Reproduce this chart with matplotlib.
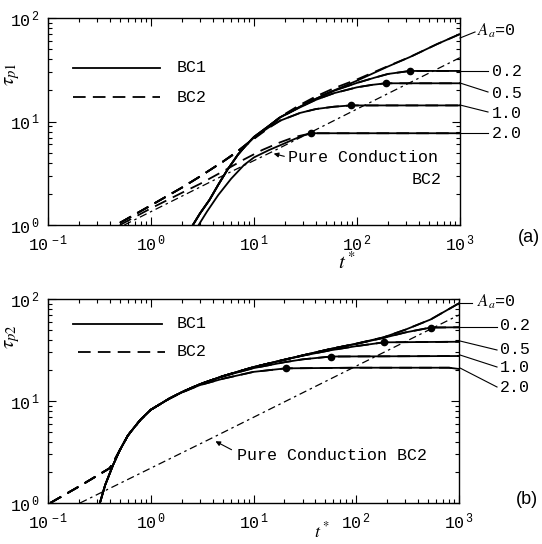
import matplotlib
matplotlib.use("Agg")
import matplotlib.pyplot as plt
from matplotlib.lines import Line2D

plt.rcParams['font.family'] = ['Liberation Mono', 'DejaVu Sans Mono']
plt.rcParams['mathtext.fontset'] = 'stix'

# ---------------- Panel (a) data: (t*, tau_p1) ----------------
a_bc1_A0_t   = [2.55, 3.0, 3.7, 4.5, 5.5, 7.0, 8.5, 10, 14, 18, 28, 40, 60, 100, 200, 327, 600, 1000]
a_bc1_A0_v   = [1.0, 1.3, 1.75, 2.45, 3.4, 4.8, 6.0, 7.1, 9.1, 11.0, 13.9, 16.6, 20.0, 24.8, 34.0, 42.0, 56.0, 70.0]
a_bc1_A02_t  = [2.55, 3.0, 3.7, 4.5, 5.5, 7.0, 8.5, 10, 14, 18, 28, 40, 60, 100, 150, 200, 327, 1000]
a_bc1_A02_v  = [1.0, 1.3, 1.75, 2.45, 3.4, 4.8, 6.0, 7.1, 9.1, 11.0, 13.9, 16.6, 19.8, 23.6, 26.6, 28.8, 30.8, 30.8]
a_bc1_A05_t  = [2.55, 3.0, 3.7, 4.5, 5.5, 7.0, 8.5, 10, 14, 18, 28, 40, 60, 100, 140, 190, 1000]
a_bc1_A05_v  = [1.0, 1.3, 1.75, 2.45, 3.4, 4.8, 6.0, 7.1, 9.1, 11.0, 13.7, 16.2, 18.8, 21.4, 22.6, 23.4, 23.4]
a_bc1_A10_t  = [2.55, 3.0, 3.7, 4.5, 5.5, 7.0, 8.5, 10, 14, 18, 28, 40, 60, 87, 1000]
a_bc1_A10_v  = [1.0, 1.3, 1.75, 2.45, 3.4, 4.8, 6.0, 7.0, 8.8, 10.2, 12.1, 13.2, 13.9, 14.3, 14.3]
a_bc1_A20_t  = [2.9, 3.5, 4.5, 6.0, 8.0, 10, 14, 18, 25, 30, 36, 1000]
a_bc1_A20_v  = [1.0, 1.35, 1.95, 2.8, 3.8, 4.5, 5.3, 5.9, 6.8, 7.3, 7.7, 7.7]

a_bc2_A0_t   = [0.5, 1.0, 2.0, 3.0, 5.0, 7.0, 10, 14, 18, 28, 40, 60, 100, 200, 327, 600, 1000]
a_bc2_A0_v   = [1.05, 1.55, 2.3, 2.95, 4.1, 5.2, 6.9, 9.0, 11.1, 14.5, 17.5, 21.0, 25.5, 34.3, 42.0, 56.0, 70.0]
a_bc2_A02_t  = [0.5, 1.0, 2.0, 3.0, 5.0, 7.0, 10, 14, 18, 28, 40, 60, 100, 150, 200, 327, 1000]
a_bc2_A02_v  = [1.05, 1.55, 2.3, 2.95, 4.1, 5.2, 6.9, 9.0, 11.0, 14.2, 17.0, 20.0, 23.6, 26.6, 28.8, 30.8, 30.8]
a_bc2_A05_t  = [0.5, 1.0, 2.0, 3.0, 5.0, 7.0, 10, 14, 18, 28, 40, 60, 100, 140, 190, 1000]
a_bc2_A05_v  = [1.05, 1.55, 2.3, 2.95, 4.1, 5.2, 6.9, 9.0, 10.9, 13.8, 16.3, 18.8, 21.4, 22.6, 23.4, 23.4]
a_bc2_A10_t  = [0.5, 1.0, 2.0, 3.0, 5.0, 7.0, 10, 14, 18, 28, 40, 60, 87, 1000]
a_bc2_A10_v  = [1.05, 1.55, 2.3, 2.95, 4.1, 5.1, 6.8, 8.7, 10.2, 12.1, 13.2, 13.9, 14.3, 14.3]
a_bc2_A20_t  = [0.5, 1.0, 2.0, 3.0, 5.0, 8.0, 12, 18, 25, 36, 1000]
a_bc2_A20_v  = [1.0, 1.45, 2.05, 2.5, 3.3, 4.3, 5.3, 6.3, 7.1, 7.7, 7.7]

a_pc_t = [0.55, 5.0, 15, 100, 1000]
a_pc_v = [1.0, 3.0, 5.1, 13.2, 41.4]

a_dot_t = [327, 190, 87, 36]
a_dot_v = [30.8, 23.4, 14.3, 7.7]

# ---------------- Panel (b) data: (t*, tau_p2) ----------------
b_bc1_A0_t  = [0.32, 0.36, 0.43, 0.5, 0.6, 0.7, 0.8, 1.0, 1.5, 2.0, 3.0, 5.0, 10, 18, 30, 57, 100, 183, 300, 530, 1000]
b_bc1_A0_v  = [1.0, 1.5, 2.36, 3.3, 4.6, 5.6, 6.6, 8.2, 10.5, 12.2, 14.6, 17.5, 21.5, 24.8, 28.0, 32.5, 36.5, 42.0, 50.0, 63.0, 90.8]
b_bc1_A02_t = [0.32, 0.36, 0.43, 0.5, 0.6, 0.7, 0.8, 1.0, 1.5, 2.0, 3.0, 5.0, 10, 18, 30, 57, 100, 183, 300, 530, 1000]
b_bc1_A02_v = [1.0, 1.5, 2.36, 3.3, 4.6, 5.6, 6.6, 8.2, 10.5, 12.2, 14.6, 17.5, 21.5, 24.8, 28.0, 32.5, 36.3, 41.5, 47.0, 52.5, 52.8]
b_bc1_A05_t = [0.32, 0.36, 0.43, 0.5, 0.6, 0.7, 0.8, 1.0, 1.5, 2.0, 3.0, 5.0, 10, 18, 30, 57, 100, 186, 1000]
b_bc1_A05_v = [1.0, 1.5, 2.36, 3.3, 4.6, 5.6, 6.6, 8.2, 10.5, 12.2, 14.6, 17.5, 21.5, 24.7, 27.8, 31.5, 34.5, 37.6, 38.1]
b_bc1_A10_t = [0.32, 0.36, 0.43, 0.5, 0.6, 0.7, 0.8, 1.0, 1.5, 2.0, 3.0, 5.0, 10, 20, 30, 57, 1000]
b_bc1_A10_v = [1.0, 1.5, 2.36, 3.3, 4.6, 5.6, 6.6, 8.2, 10.5, 12.2, 14.6, 17.4, 21.0, 24.0, 25.6, 27.3, 27.6]
b_bc1_A20_t = [0.32, 0.36, 0.43, 0.5, 0.6, 0.7, 0.8, 1.0, 1.5, 2.0, 3.0, 5.0, 10, 20.6, 100, 800, 1000]
b_bc1_A20_v = [1.0, 1.5, 2.36, 3.3, 4.6, 5.6, 6.6, 8.2, 10.5, 12.1, 14.3, 16.5, 19.3, 20.9, 21.2, 21.2, 20.6]

b_bc2_early_t = [0.105, 0.2, 0.3, 0.4, 0.45, 0.5]
b_bc2_early_v = [1.0, 1.45, 1.85, 2.2, 2.7, 3.3]

b_pc_t = [0.205, 4.06, 100, 1000]
b_pc_v = [1.0, 4.4, 22.0, 69.7]

b_dot_t = [530, 186, 57, 20.6]
b_dot_v = [52.5, 37.6, 27.3, 20.9]

A_labels = ['$A_a$=0', '0.2', '0.5', '1.0', '2.0']

# ---------------- figure ----------------
W, H = 542, 544
fig = plt.figure(figsize=(W / 100, H / 100), dpi=100)

def px_axes(l, t, r, b):
    return fig.add_axes([l / W, 1 - b / H, (r - l) / W, (b - t) / H])

axA = px_axes(48, 18, 460, 225)
axB = px_axes(48, 299, 459, 503)

LW = 1.3
DASH = (0, (7, 4))
DASHDOT = (0, (6, 3, 2, 3))

def fig_text(x, y, s, **kw):
    kw.setdefault('va', 'center')
    fig.text(x / W, 1 - y / H, s, **kw)

def style(ax):
    ax.set_xscale('log')
    ax.set_yscale('log')
    ax.set_xlim(0.1, 1000)
    ax.set_ylim(1, 100)
    ax.tick_params(which='both', direction='in', top=True, right=True, width=0.8)
    ax.tick_params(which='major', length=6, labelsize=12, pad=6)
    ax.tick_params(which='minor', length=3)
    for s in ax.spines.values():
        s.set_linewidth(1.0)
    ax.set_xticks([0.1, 1, 10, 100, 1000])
    ax.set_xticklabels([r'$\mathregular{10^{\,-1}}$', r'$\mathregular{10^{\,0}}$', r'$\mathregular{10^{\,1}}$',
                        r'$\mathregular{10^{\,2}}$', r'$\mathregular{10^{\,3}}$'])
    ax.set_yticks([1, 10, 100])
    ax.set_yticklabels([r'$\mathregular{10^{\,0}}$', r'$\mathregular{10^{\,1}}$', r'$\mathregular{10^{\,2}}$'])

# ---- panel (a)
for t, v in [(a_bc1_A0_t, a_bc1_A0_v), (a_bc1_A02_t, a_bc1_A02_v), (a_bc1_A05_t, a_bc1_A05_v),
             (a_bc1_A10_t, a_bc1_A10_v), (a_bc1_A20_t, a_bc1_A20_v)]:
    axA.plot(t, v, color='black', lw=LW)
for t, v in [(a_bc2_A0_t, a_bc2_A0_v), (a_bc2_A02_t, a_bc2_A02_v), (a_bc2_A05_t, a_bc2_A05_v),
             (a_bc2_A10_t, a_bc2_A10_v), (a_bc2_A20_t, a_bc2_A20_v)]:
    axA.plot(t, v, color='black', lw=LW, linestyle=DASH)
axA.plot(a_pc_t, a_pc_v, color='black', lw=0.9, linestyle=DASHDOT)
axA.plot(a_dot_t, a_dot_v, 'o', color='black', ms=4.5)
style(axA)

# ---- panel (b)
for t, v in [(b_bc1_A0_t, b_bc1_A0_v), (b_bc1_A02_t, b_bc1_A02_v), (b_bc1_A05_t, b_bc1_A05_v),
             (b_bc1_A10_t, b_bc1_A10_v), (b_bc1_A20_t, b_bc1_A20_v)]:
    axB.plot(t, v, color='black', lw=LW)
    bt = b_bc2_early_t + [x for x in t if x > 0.5]
    bv = b_bc2_early_v + [y for x, y in zip(t, v) if x > 0.5]
    axB.plot(bt, bv, color='black', lw=LW, linestyle=DASH)
axB.plot(b_pc_t, b_pc_v, color='black', lw=0.9, linestyle=DASHDOT)
axB.plot(b_dot_t, b_dot_v, 'o', color='black', ms=4.5)
style(axB)

# ---- axis labels
fig_text(13, 74, r'$\tau_{p1}$', fontsize=15, rotation=90, ha='center')
fig_text(13, 337, r'$\tau_{p2}$', fontsize=15, rotation=90, ha='center')
fig_text(347, 262, r'$t^*$', fontsize=15, ha='center')
fig_text(322, 531, r'$t^*$', fontsize=13, ha='center')

# ---- legends (drawn in figure pixels)
def fig_line(x0, x1, y, ls):
    fig.add_artist(Line2D([x0 / W, x1 / W], [1 - y / H, 1 - y / H], color='black', lw=LW, linestyle=ls))

fig_line(73, 160, 68, '-')
fig_text(177, 68, 'BC1', fontsize=12)
fig_line(73, 160, 97, DASH)
fig_text(177, 97, 'BC2', fontsize=12)

fig_line(73, 162, 324, '-')
fig_text(177, 324, 'BC1', fontsize=12)
fig_line(78, 165, 352, DASH)
fig_text(177, 352, 'BC2', fontsize=12)

# ---- right-side labels with leader lines
def leader(x0, y0, x1, y1):
    fig.add_artist(Line2D([x0 / W, x1 / W], [1 - y0 / H, 1 - y1 / H], color='black', lw=0.8))

leaderA = [((460, 38), (475, 32)), ((460, 71), (488, 71)), ((460, 83), (488, 92)),
           ((460, 105), (488, 112)), ((460, 133), (488, 133))]
textA = [(477, 31), (492, 72), (492, 93), (492, 113), (492, 133)]
for (p0, p1), (tx, ty), lab in zip(leaderA, textA, A_labels):
    leader(p0[0], p0[1], p1[0], p1[1])
    fig_text(tx, ty, lab, fontsize=12)

leaderB = [((460, 303), (472, 303)), ((460, 327), (497, 327)), ((460, 341), (497, 350)),
           ((460, 355), (497, 367)), ((460, 368), (497, 387))]
textB = [(477, 302), (500, 326), (500, 350), (500, 367), (500, 387)]
for (p0, p1), (tx, ty), lab in zip(leaderB, textB, A_labels):
    leader(p0[0], p0[1], p1[0], p1[1])
    fig_text(tx, ty, lab, fontsize=12)

# ---- Pure conduction annotations
fig_text(288, 157, 'Pure Conduction', fontsize=12)
fig_text(442, 180, 'BC2', fontsize=12, ha='right')
fig.add_artist(matplotlib.patches.FancyArrowPatch((287 / W, 1 - 157 / H), (271 / W, 1 - 153 / H),
               transform=fig.transFigure, arrowstyle='-|>', mutation_scale=7, color='black', lw=0.8))

fig_text(237, 456, 'Pure Conduction BC2', fontsize=12)
fig.add_artist(matplotlib.patches.FancyArrowPatch((234 / W, 1 - 451 / H), (213 / W, 1 - 440 / H),
               transform=fig.transFigure, arrowstyle='-|>', mutation_scale=7, color='black', lw=0.8))

# ---- panel labels
fig_text(529, 237, '(a)', fontsize=13, family='Liberation Sans', ha='center')
fig_text(527, 500, '(b)', fontsize=13, family='Liberation Sans', ha='center')

fig.savefig('out.png', dpi=100)
